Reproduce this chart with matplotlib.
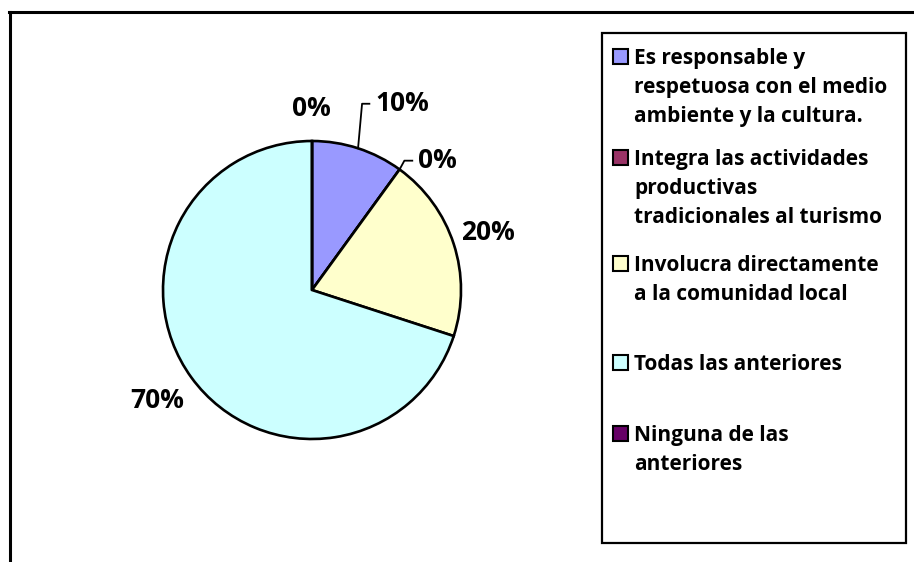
import numpy as np
import matplotlib.pyplot as plt
from matplotlib.patches import Rectangle
from matplotlib.lines import Line2D

# datos de la encuesta
categorias = [
    "Es responsable y\nrespetuosa con el medio\nambiente y la cultura.",
    "Integra las actividades\nproductivas\ntradicionales al turismo",
    "Involucra directamente\na la comunidad local",
    "Todas las anteriores",
    "Ninguna de las\nanteriores",
]
valores = [10, 0, 20, 70, 0]
colores = ["#9999FF", "#993366", "#FFFFCC", "#CCFFFF", "#660066"]

# posiciones de las etiquetas (coordenadas del pastel) y si llevan linea guia
pos_etiquetas = [(0.425, 1.25), (0.713, 0.868), (1.181, 0.385), (-1.040, -0.742), (-0.007, 1.216)]
codo = [(0.336, 1.25), (0.62, 0.868), None, None, None]
alinear = ["left", "left", "center", "center", "center"]
# altura (px desde arriba) de la primera linea de cada entrada de leyenda
ley_y = [56, 157, 263, 362, 433]

fuente = "Open Sans"
W, H = 914, 562
fig = plt.figure(figsize=(W / 100, H / 100), dpi=100)

# marco exterior (solo se ven arriba e izquierda)
fig.add_artist(Line2D([9.5 / W, 9.5 / W], [0, 1 - 11.5 / H], transform=fig.transFigure, color="black", lw=2.2))
fig.add_artist(Line2D([8.5 / W, 1], [1 - 11.5 / H, 1 - 11.5 / H], transform=fig.transFigure, color="black", lw=2.2))

# pastel: centro (312, 290) px, radio 149 px
cx, cy, r = 312, 290, 149
ax = fig.add_axes([(cx - r) / W, (H - cy - r) / H, 2 * r / W, 2 * r / H])
ax.pie(valores, colors=colores, startangle=90, counterclock=False,
       wedgeprops=dict(edgecolor="black", linewidth=1.9), radius=1)
ax.set_xlim(-1, 1)
ax.set_ylim(-1, 1)
ax.set_aspect("auto")

total = sum(valores)
ang = 90.0
for i, v in enumerate(valores):
    medio = ang - 360 * v / total / 2
    ang -= 360 * v / total
    tx, ty = pos_etiquetas[i]
    if codo[i] is not None:
        a = np.radians(medio)
        bx, by = codo[i]
        ax.plot([np.cos(a), bx, tx - 0.04], [np.sin(a), by, ty], color="black", lw=1.3, clip_on=False)
    ax.text(tx, ty, f"{v}%", ha=alinear[i], va="center", fontsize=19,
            fontweight="bold", family=fuente, clip_on=False)

# leyenda
fig.add_artist(Rectangle((602 / W, 1 - 543 / H), (906 - 602) / W, (543 - 33) / H,
                         transform=fig.transFigure, fill=False, edgecolor="black", lw=1.6))
for i, etiqueta in enumerate(categorias):
    y = ley_y[i]
    fig.add_artist(Rectangle((613 / W, 1 - (y + 8) / H), 15 / W, 15 / H,
                             transform=fig.transFigure, facecolor=colores[i],
                             edgecolor="black", lw=1.5))
    fig.text(634 / W, 1 - (y - 8) / H, etiqueta, ha="left", va="top", fontsize=15,
             fontweight="bold", family=fuente, linespacing=1.5)

fig.savefig("out.png", dpi=100)
